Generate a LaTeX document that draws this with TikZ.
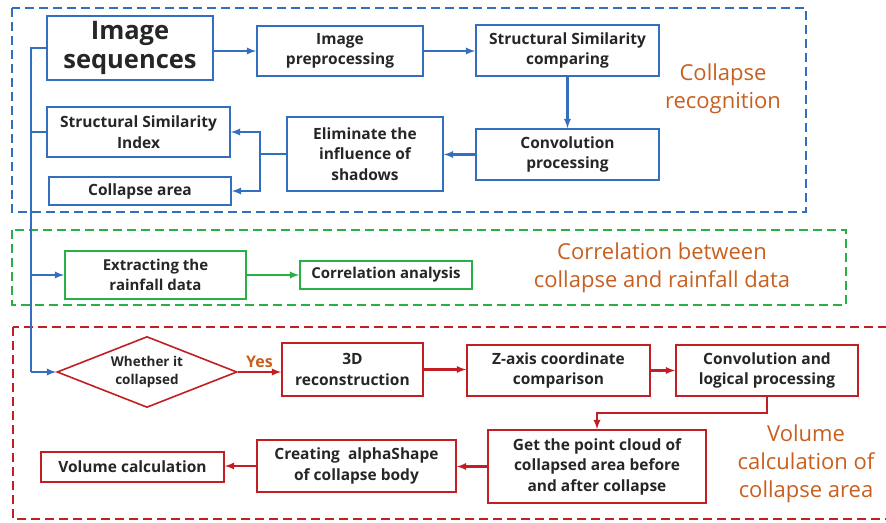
\documentclass[tikz,border=0pt]{standalone}
\usepackage{fontspec}
\setmainfont{Open Sans}
\usetikzlibrary{shapes.geometric}

\definecolor{flowblue}{RGB}{52,110,190}
\definecolor{flowgreen}{RGB}{40,175,70}
\definecolor{flowred}{RGB}{195,30,35}
\definecolor{titleorange}{RGB}{200,95,30}

\tikzset{
  box/.style={draw,line width=1.6pt,align=center,inner sep=2pt,
    font=\fontsize{15.5}{20.5}\selectfont\bfseries,text=black!85},
  bluebox/.style={box,draw=flowblue},
  greenbox/.style={box,draw=flowgreen,font=\fontsize{15}{20}\selectfont\bfseries},
  redbox/.style={box,draw=flowred},
  zone/.style={dashed,dash pattern=on 9pt off 5pt,line width=2.6pt},
  flow/.style={line width=2.2pt,-latex},
  title/.style={text=titleorange,align=center,font=\fontsize{22}{28}\selectfont},
}

\begin{document}
\begin{tikzpicture}[x=1pt,y=-1pt,line join=miter]
  \useasboundingbox (0,0) rectangle (886,522);

  % Zonas punteadas
  \draw[zone,flowblue] (12,8) rectangle (806,212);
  \draw[zone,flowgreen] (12,230) rectangle (846,305);
  \draw[zone,flowred] (13,327) rectangle (895,519);

  % Reconocimiento del colapso
  \node[bluebox,minimum width=166pt,minimum height=64pt,inner sep=0pt,
    font=\fontsize{25.5}{29}\selectfont\bfseries] (seq) at (130,48) {Image\\sequences};
  \node[bluebox,minimum width=166pt,minimum height=50pt] (pre) at (340,51) {Image\\preprocessing};
  \node[bluebox,minimum width=183pt,minimum height=51pt] (ssc) at (567.5,50.5) {Structural Similarity\\comparing};
  \node[bluebox,minimum width=183pt,minimum height=51pt] (conv) at (567.5,154.5) {Convolution\\processing};
  \node[bluebox,minimum width=156pt,minimum height=74pt] (elim) at (365,154) {Eliminate the\\influence of\\shadows};
  \node[bluebox,minimum width=183pt,minimum height=50pt] (ssi) at (138.5,132) {Structural Similarity\\Index};
  \node[bluebox,minimum width=182pt,minimum height=28pt] (area) at (140,191) {Collapse area};
  \node[title] (recog) at (723,89) {Collapse\\recognition};

  \draw[flow,flowblue] (seq.east |- pre.west) -- (pre.west);
  \draw[flow,flowblue] (pre.east) -- (pre.east -| ssc.west);
  \draw[flow,flowblue] (ssc) -- (conv);
  \draw[flow,flowblue] (conv.west) -- (conv.west -| elim.east);
  \coordinate (split) at (260,154);
  \draw[line width=2.2pt,flowblue] (elim.west |- split) -- (split);
  \draw[flow,flowblue] (split) |- (ssi.east);
  \draw[flow,flowblue] (split) |- (area.east);

  % Correlación con la lluvia
  \node[greenbox,minimum width=181pt,minimum height=48pt] (extr) at (155.5,275) {Extracting the\\rainfall data};
  \node[greenbox,minimum width=172pt,minimum height=28pt] (corr) at (386,275) {Correlation analysis};
  \node[title] (relate) at (662,268) {Correlation between\\collapse and rainfall data};
  \draw[flow,flowgreen] (extr) -- (corr);

  % Cálculo del volumen
  \node[draw=flowred,line width=1.6pt,diamond,aspect=2.5,inner sep=0pt,
    minimum width=180pt,minimum height=71pt,align=center,text=black!85,
    font=\fontsize{13.5}{18}\selectfont\bfseries] (dia) at (147,372) {Whether it\\collapsed};
  \node[redbox,minimum width=141pt,minimum height=53pt] (rec) at (352.5,369.5) {3D\\reconstruction};
  \node[redbox,minimum width=183pt,minimum height=51pt] (zax) at (558.5,370.5) {Z-axis coordinate\\comparison};
  \node[redbox,minimum width=182pt,minimum height=51pt] (cal) at (767,370.5) {Convolution and\\logical processing};
  \node[redbox,minimum width=218pt,minimum height=73pt] (cloud) at (597,466.5) {Get the point cloud of\\collapsed area before\\and after collapse};
  \node[redbox,minimum width=199pt,minimum height=52pt] (alpha) at (356.5,466) {Creating \ alphaShape\\of collapse body};
  \node[redbox,minimum width=183pt,minimum height=30pt] (vol) at (132.5,467) {Volume calculation};
  \node[title] (volume) at (806,464) {Volume\\calculation of\\collapse area};

  \draw[flow,flowred] (dia.east) -- node[above,text=titleorange,
    font=\fontsize{16}{18}\selectfont\bfseries] (yes) {Yes} (dia.east -| rec.west);
  \draw[flow,flowred] (rec.east) -- (rec.east -| zax.west);
  \draw[flow,flowred] (zax) -- (cal);
  \coordinate (bend) at (767,413);
  \draw[flow,flowred] (cal.south) -- (bend) -| (cloud.north);
  \draw[flow,flowred] (cloud.west) -- (cloud.west -| alpha.east);
  \draw[flow,flowred] (alpha.west) -- (alpha.west -| vol.east);

  % Tronco izquierdo
  \coordinate (trunk) at (31,48);
  \draw[line width=2.2pt,flowblue] (seq.west) -- (trunk) -- (trunk |- dia.west);
  \draw[line width=2.2pt,flowblue] (trunk |- ssi.west) -- (ssi.west);
  \draw[flow,flowblue] (trunk |- extr.west) -- (extr.west);
  \draw[flow,flowblue] (trunk |- dia.west) -- (dia.west);
\end{tikzpicture}
\end{document}
